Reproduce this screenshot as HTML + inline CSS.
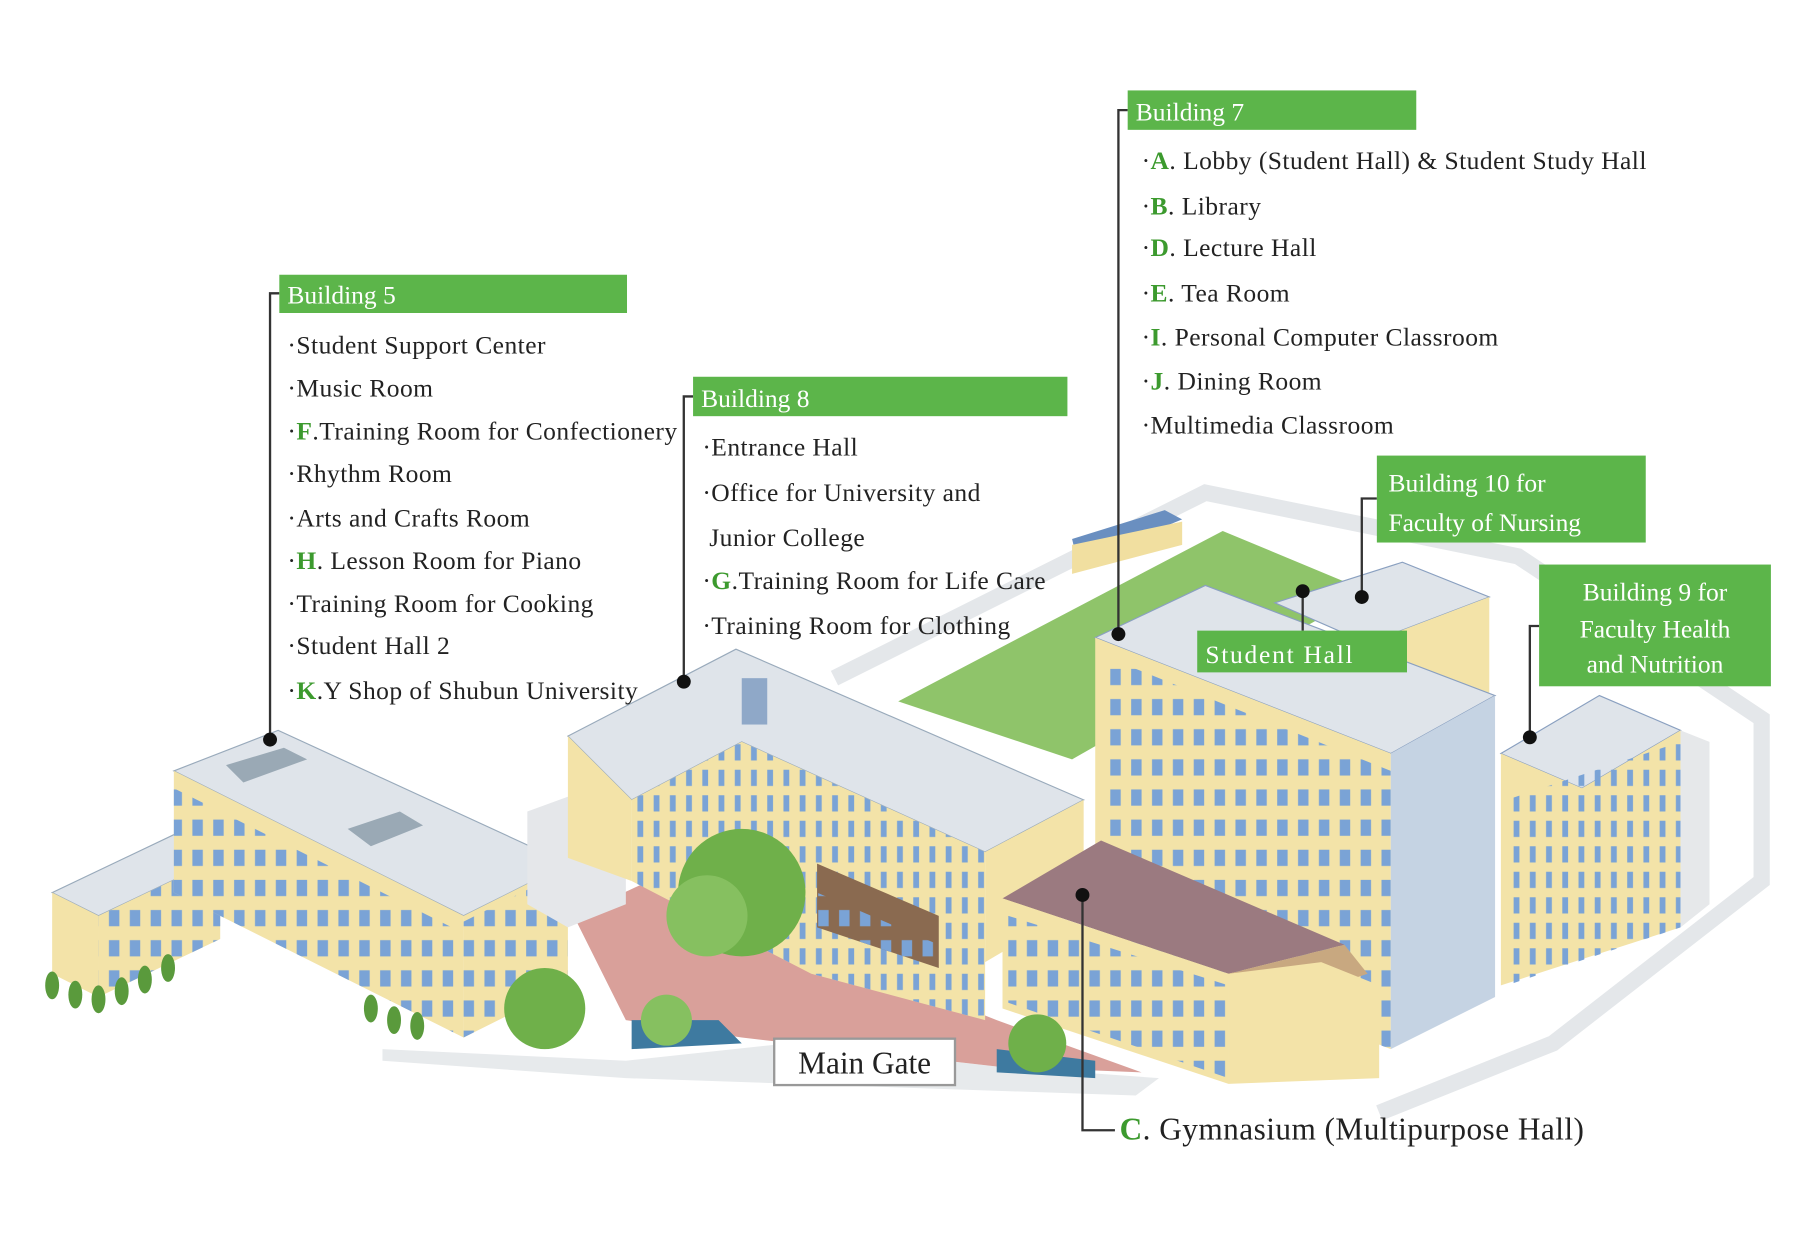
<!DOCTYPE html>
<html><head><meta charset="utf-8"><style>
html,body{margin:0;padding:0;background:#fff;}
svg{display:block}
.t{font-family:"Liberation Serif",serif;font-size:22px;fill:#222;letter-spacing:0.4px}
.g{fill:#3c9a2e;font-weight:bold}
.h{font-family:"Liberation Serif",serif;font-size:22px;fill:#fff}
</style></head><body>
<svg width="1808" height="1252" viewBox="0 0 1560 1080" preserveAspectRatio="none" xmlns="http://www.w3.org/2000/svg">
<defs>
<pattern id="win" width="18" height="26" patternUnits="userSpaceOnUse">
<rect x="4" y="5" width="9" height="14" fill="#7aa3d6"/>
</pattern>
<pattern id="win2" width="14" height="22" patternUnits="userSpaceOnUse">
<rect x="4" y="4" width="5" height="14" fill="#7aa3d6"/>
</pattern>
</defs>
<rect width="1560" height="1080" fill="#fff"/>
<polyline points="720,585 1040,425 1310,480 1520,620 1520,760 1340,900 1190,960" fill="none" stroke="#e4e7ea" stroke-width="14"/>
<polygon points="330,905 540,915 680,900 860,920 1000,930 980,945 540,930 330,915" fill="#e7eaec"/>
<polygon points="775,605 1055,458 1180,510 925,655" fill="#8fc46a"/>
<polygon points="925,465 1005,440 1020,448 930,485" fill="#6a8fc0"/>
<polygon points="925,470 1020,450 1020,470 925,495" fill="#f1dfa0"/>
<polygon points="495,790 560,760 860,880 985,925 860,920 640,895 540,880" fill="#d9a09a"/>
<polygon points="545,880 620,880 640,900 545,905" fill="#3e7aa0"/>
<polygon points="860,905 945,915 945,930 860,925" fill="#3e7aa0"/>
<polygon points="45,770 150,720 190,740 85,790" fill="#dfe4ea" stroke="#9ab" />
<polygon points="45,770 85,790 85,860 45,840" fill="#f3e3a8"/>
<polygon points="85,790 190,740 190,810 85,860" fill="#f3e3a8"/>
<polygon points="85,790 190,740 190,810 85,860" fill="url(#win)"/>
<polygon points="150,665 240,630 490,745 400,790" fill="#dfe4ea" stroke="#9ab"/>
<polygon points="150,665 400,790 400,895 150,770" fill="#f3e3a8"/>
<polygon points="150,680 400,805 400,895 150,770" fill="url(#win)"/>
<polygon points="400,790 490,745 490,850 400,895" fill="#f3e3a8"/>
<polygon points="400,795 490,750 490,850 400,895" fill="url(#win)"/>
<polygon points="195,660 245,645 265,655 210,675" fill="#9aa9b5"/>
<polygon points="300,715 345,700 365,712 320,730" fill="#9aa9b5"/>
<polygon points="455,700 510,680 540,695 540,780 490,800 455,780" fill="#e5e7ea"/>
<polygon points="490,635 635,560 935,690 850,735 640,640 545,690" fill="#dfe4ea" stroke="#9ab"/>
<polygon points="545,690 640,640 850,735 850,880 700,840 545,760" fill="#f3e3a8"/>
<polygon points="545,690 640,640 850,735 850,880 700,840 545,760" fill="url(#win2)"/>
<polygon points="490,635 545,690 545,760 490,740" fill="#f3e3a8"/>
<polygon points="850,735 935,690 935,780 850,830" fill="#f3e3a8"/>
<rect x="640" y="585" width="22" height="40" fill="#8fa8c8"/>
<polygon points="1100,520 1210,485 1285,515 1180,555" fill="#dfe4ea" stroke="#8aa0c0"/>
<polygon points="1180,555 1285,515 1285,600 1180,640" fill="#f3e3a8"/>
<polygon points="945,550 1040,505 1290,600 1200,650" fill="#dfe4ea" stroke="#8aa0c0"/>
<polygon points="945,550 1200,650 1200,905 945,805" fill="#f3e3a8"/>
<polygon points="950,565 1200,665 1200,905 950,810" fill="url(#win)"/>
<polygon points="1200,650 1290,600 1290,860 1200,905" fill="#c5d3e3"/>
<polygon points="1295,650 1380,600 1450,630 1365,680" fill="#dfe4ea" stroke="#8aa0c0"/>
<polygon points="1295,650 1365,680 1450,630 1450,800 1295,850" fill="#f3e3a8"/>
<polygon points="1300,690 1450,640 1450,800 1300,850" fill="url(#win2)"/>
<polygon points="1450,630 1475,640 1475,780 1450,800" fill="#e6e8ea"/>
<polygon points="865,775 950,725 1160,815 1060,840" fill="#9b7a80"/>
<polygon points="1060,840 1160,815 1180,840 1090,870" fill="#c8a880"/>
<polygon points="865,775 1060,840 1060,935 865,870" fill="#f3e3a8"/>
<polygon points="870,790 1060,850 1060,930 870,865" fill="url(#win)"/>
<polygon points="1060,840 1140,830 1190,850 1190,930 1060,935" fill="#f3e3a8"/>
<polygon points="705,745 810,790 810,835 705,800" fill="#8a6a50"/>
<polygon points="705,770 810,815 810,835 705,800" fill="url(#win)"/>
<circle cx="640" cy="770" r="55" fill="#6fb04a"/>
<circle cx="610" cy="790" r="35" fill="#86c060"/>
<circle cx="470" cy="870" r="35" fill="#6fb04a"/>
<circle cx="895" cy="900" r="25" fill="#6fb04a"/>
<circle cx="575" cy="880" r="22" fill="#86c060"/>
<g fill="#5a9a3c">
<ellipse cx="45" cy="850" rx="6" ry="12"/><ellipse cx="65" cy="858" rx="6" ry="12"/><ellipse cx="85" cy="862" rx="6" ry="12"/><ellipse cx="105" cy="855" rx="6" ry="12"/><ellipse cx="125" cy="845" rx="6" ry="12"/><ellipse cx="145" cy="835" rx="6" ry="12"/>
<ellipse cx="320" cy="870" rx="6" ry="12"/><ellipse cx="340" cy="880" rx="6" ry="12"/><ellipse cx="360" cy="885" rx="6" ry="12"/>
</g>
<g stroke="#333" stroke-width="2" fill="none">
<polyline points="973,95 965,95 965,547"/>
<polyline points="241,253 233,253 233,638"/>
<polyline points="598,342 590,342 590,588"/>
<polyline points="1188,430 1175,430 1175,515"/>
<line x1="1124" y1="510" x2="1124" y2="544"/>
<polyline points="1328,540 1320,540 1320,636"/>
<polyline points="934,772 934,975 962,975"/>
</g>
<g fill="#111">
<circle cx="965" cy="547" r="6"/><circle cx="233" cy="638" r="6"/><circle cx="590" cy="588" r="6"/><circle cx="1175" cy="515" r="6"/><circle cx="1124" cy="510" r="6"/><circle cx="1320" cy="636" r="6"/><circle cx="934" cy="772" r="6"/>
</g>
<g fill="#5cb54a">
<rect x="973" y="78" width="249" height="34"/>
<rect x="241" y="237" width="300" height="33"/>
<rect x="598" y="325" width="323" height="34"/>
<rect x="1188" y="393" width="232" height="75"/>
<rect x="1328" y="487" width="200" height="105"/>
<rect x="1033" y="544" width="181" height="36"/>
</g>
<text class="h" x="980" y="104">Building 7</text>
<text class="h" x="248" y="262">Building 5</text>
<text class="h" x="605" y="351">Building 8</text>
<text class="h" x="1198" y="424" font-size="25">Building 10 for</text>
<text class="h" x="1198" y="458" font-size="25">Faculty of Nursing</text>
<text class="h" x="1428" y="518" font-size="25" text-anchor="middle">Building 9 for</text>
<text class="h" x="1428" y="550" font-size="25" text-anchor="middle">Faculty Health</text>
<text class="h" x="1428" y="580" font-size="25" text-anchor="middle">and Nutrition</text>
<text class="h" x="1040" y="572" font-size="28" letter-spacing="1.5">Student Hall</text>
<rect x="668" y="896" width="156" height="40" fill="#fff" stroke="#999" stroke-width="2"/>
<text x="746" y="926" text-anchor="middle" font-family="Liberation Serif,serif" font-size="27" fill="#222">Main Gate</text>
<g class="t">
<text x="248" y="305">·Student Support Center</text>
<text x="248" y="342">·Music Room</text>
<text x="248" y="379">·<tspan class="g">F</tspan>.Training Room for Confectionery</text>
<text x="248" y="416">·Rhythm Room</text>
<text x="248" y="454">·Arts and Crafts Room</text>
<text x="248" y="491">·<tspan class="g">H</tspan>. Lesson Room for Piano</text>
<text x="248" y="528">·Training Room for Cooking</text>
<text x="248" y="564">·Student Hall 2</text>
<text x="248" y="603">·<tspan class="g">K</tspan>.Y Shop of Shubun University</text>
<text x="606" y="393">·Entrance Hall</text>
<text x="606" y="432">·Office for University and</text>
<text x="612" y="471">Junior College</text>
<text x="606" y="508">·<tspan class="g">G</tspan>.Training Room for Life Care</text>
<text x="606" y="547">·Training Room for Clothing</text>
<text x="985" y="146">·<tspan class="g">A</tspan>. Lobby (Student Hall) &amp; Student Study Hall</text>
<text x="985" y="185">·<tspan class="g">B</tspan>. Library</text>
<text x="985" y="221">·<tspan class="g">D</tspan>. Lecture Hall</text>
<text x="985" y="260">·<tspan class="g">E</tspan>. Tea Room</text>
<text x="985" y="298">·<tspan class="g">I</tspan>. Personal Computer Classroom</text>
<text x="985" y="336">·<tspan class="g">J</tspan>. Dining Room</text>
<text x="985" y="374">·Multimedia Classroom</text>
<text x="966" y="983" font-size="27"><tspan class="g">C</tspan>. Gymnasium (Multipurpose Hall)</text>
</g>
</svg>
</body></html>
